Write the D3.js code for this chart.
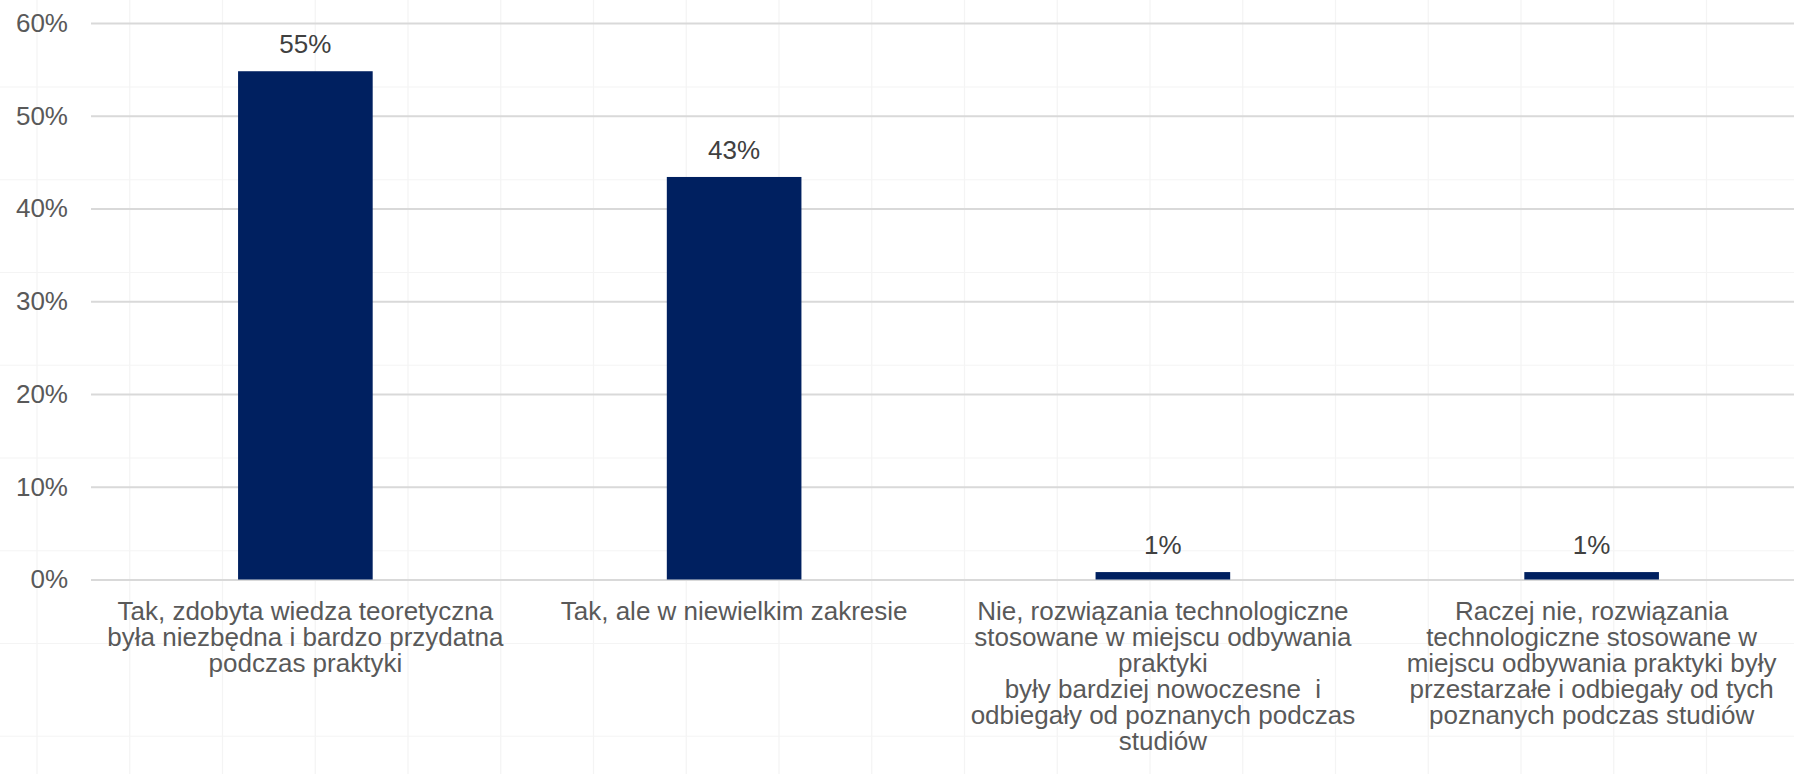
<!DOCTYPE html>
<html>
<head>
<meta charset="utf-8">
<script src="https://cdn.jsdelivr.net/npm/d3@7/dist/d3.min.js"></script>
<style>
  html, body { margin: 0; padding: 0; background: #ffffff; }
  svg { display: block; font-family: "Liberation Sans", Arial, Helvetica, sans-serif; }
</style>
</head>
<body>
<svg id="chart" width="1794" height="774"></svg>
<script>
// ---- data ----
const categories = [
  ["Tak, zdobyta wiedza teoretyczna", "była niezbędna i bardzo przydatna", "podczas praktyki"],
  ["Tak, ale w niewielkim zakresie"],
  ["Nie, rozwiązania technologiczne", "stosowane w miejscu odbywania", "praktyki", "były bardziej nowoczesne  i", "odbiegały od poznanych podczas", "studiów"],
  ["Raczej nie, rozwiązania", "technologiczne stosowane w", "miejscu odbywania praktyki były", "przestarzałe i odbiegały od tych", "poznanych podczas studiów"]
];
const values = [54.8, 43.4, 0.8, 0.8];
const valueLabels = ["55%", "43%", "1%", "1%"];
const yTicks = [0, 10, 20, 30, 40, 50, 60];
const yTickLabels = ["0%", "10%", "20%", "30%", "40%", "50%", "60%"];

// ---- layout ----
const W = 1794, H = 774;
const svg = d3.select("#chart");

const x = d3.scaleBand()
  .domain(d3.range(categories.length))
  .range([91, 1806])
  .paddingInner(0.686)
  .paddingOuter(0.343);

const y = d3.scaleLinear().domain([0, 60]).range([579.5, 23]);

// faint background grid (decorative)
const faint = svg.append("g").attr("class", "faint-grid");
const stepPx = y(0) - y(10);
faint.selectAll("line.v")
  .data(d3.range(37, W, stepPx))
  .join("line")
  .attr("class", "v")
  .attr("x1", d => d).attr("x2", d => d)
  .attr("y1", 0).attr("y2", H)
  .attr("stroke", "#f4f4f4").attr("stroke-width", 1.2);
faint.selectAll("line.h")
  .data(d3.range(y(60) + 64 - stepPx, H, stepPx))
  .join("line")
  .attr("class", "h")
  .attr("x1", 0).attr("x2", W)
  .attr("y1", d => d).attr("y2", d => d)
  .attr("stroke", "#f4f4f4").attr("stroke-width", 1.2);

// y axis with gridlines
const yAxis = d3.axisLeft(y)
  .tickValues(yTicks)
  .tickSize(-(W - 91))
  .tickPadding(23)
  .tickFormat((d, i) => yTickLabels[i]);

const gy = svg.append("g")
  .attr("transform", "translate(91,0)")
  .call(yAxis);
gy.select(".domain").remove();
gy.selectAll(".tick line").attr("stroke", "#d9d9d9").attr("stroke-width", 2);
gy.selectAll(".tick text")
  .attr("fill", "#595959")
  .attr("font-size", 26)
  .attr("font-family", "'Liberation Sans', Arial, Helvetica, sans-serif");

// bars
svg.append("g").selectAll("rect")
  .data(values)
  .join("rect")
  .attr("x", (d, i) => x(i))
  .attr("width", x.bandwidth())
  .attr("y", d => y(d))
  .attr("height", d => y(0) - y(d))
  .attr("fill", "#002060");

// value labels
svg.append("g").selectAll("text")
  .data(values)
  .join("text")
  .attr("x", (d, i) => x(i) + x.bandwidth() / 2)
  .attr("y", d => y(d) - 18)
  .attr("text-anchor", "middle")
  .attr("font-size", 26)
  .attr("fill", "#404040")
  .text((d, i) => valueLabels[i]);

// category labels
const xAxis = d3.axisBottom(x).tickSize(0).tickFormat("");
const gx = svg.append("g").attr("transform", `translate(0,${y(0)})`).call(xAxis);
gx.select(".domain").remove();
gx.selectAll(".tick").each(function(i) {
  const t = d3.select(this).append("text")
    .attr("text-anchor", "middle")
    .attr("font-size", 26)
    .attr("fill", "#595959")
    .style("white-space", "pre");
  categories[i].forEach((line, k) => {
    t.append("tspan")
      .attr("x", 0)
      .attr("y", 40.5 + k * 26)
      .text(line);
  });
});
</script>
</body>
</html>
